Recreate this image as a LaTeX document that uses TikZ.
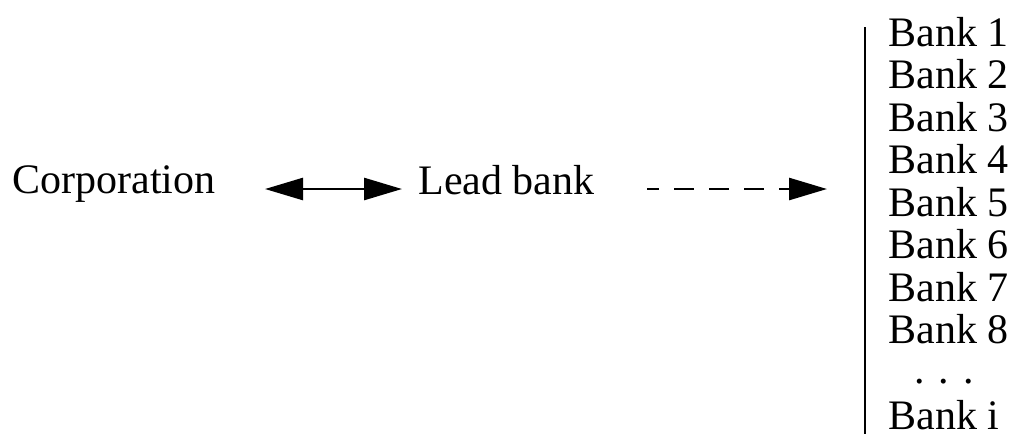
\documentclass[tikz,border=0pt]{standalone}
\usepackage{fontspec}
\setmainfont{Liberation Serif}
\usetikzlibrary{arrows.meta}

\tikzset{
  lbl/.style={inner sep=0pt, anchor=base west, font=\fontsize{21}{21}\selectfont},
  link/.style={line width=1.3pt, -{Triangle[length=19pt,width=11pt]}},
}

\begin{document}
\begin{tikzpicture}[x=0.5pt, y=-0.5pt]
\begin{scope}[scale=1]
\useasboundingbox (0,0) rectangle (1011,436);

\node[lbl] (corp) at (12,193) {Corporation};
\node[lbl] (lead) at (418,194) {Lead bank};

\coordinate (c1) at (265,189);
\coordinate (c2) at (402,189);
\coordinate (d1) at (647,189);
\coordinate (d2) at (827,189);

\draw[link, {Triangle[length=19pt,width=11pt]}-{Triangle[length=19pt,width=11pt]}] (c1) -- (c2);
\draw[link, dash pattern=on 10pt off 7.5pt, dash phase=4pt] (d1) -- (d2);

\draw[line width=0.9pt] (865,27) -- (865,434);

\foreach \i in {1,...,8}
  \node[lbl] (bank\i) at (888,{46+42.55*(\i-1)}) {Bank \i};
\node[lbl, anchor=base] (dots) at (944,383) {.\,\,.\,\,.};
\node[lbl] (banki) at (888,429) {Bank i};

\end{scope}
\end{tikzpicture}
\end{document}
